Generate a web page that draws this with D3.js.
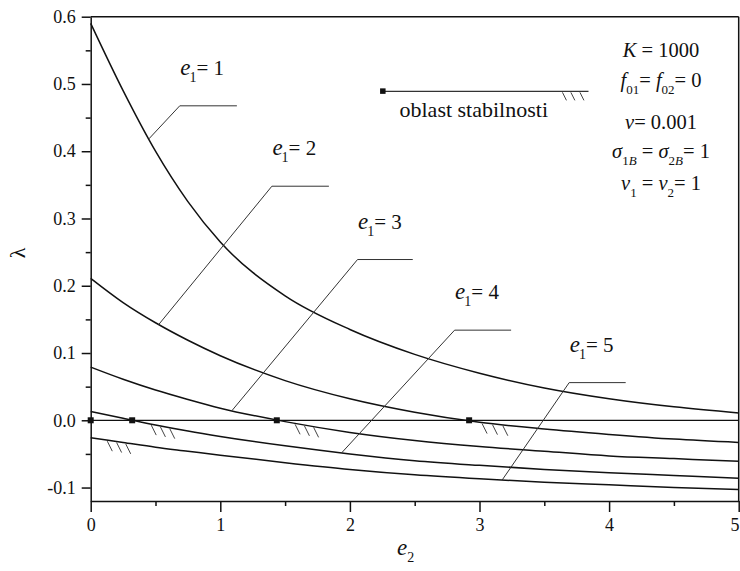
<!DOCTYPE html>
<html><head><meta charset="utf-8">
<script src="https://cdn.jsdelivr.net/npm/d3@7"></script>
<style>
body{margin:0;background:#fff}
svg text{font-family:"Liberation Serif","DejaVu Serif",serif;fill:#111}
</style>
</head><body>
<svg id="c" width="740" height="571"></svg>
<script>
// ---------- data ----------
const e2Grid = [0, 0.25, 0.5, 0.75, 1, 1.5, 2, 2.5, 3, 3.5, 4, 4.5, 5];
const e1Values = ["1", "2", "3", "4", "5"];
const lambdaE1_1 = [0.59, 0.49, 0.40, 0.325, 0.265, 0.185, 0.135, 0.098, 0.07, 0.048, 0.032, 0.02, 0.011];
const lambdaE1_2 = [0.211, 0.175, 0.145, 0.119, 0.096, 0.059, 0.032, 0.012, -0.003, -0.013, -0.021, -0.028, -0.033];
const lambdaE1_3 = [0.079, 0.061, 0.045, 0.031, 0.018, -0.002, -0.018, -0.030, -0.039, -0.046, -0.053, -0.057, -0.061];
const lambdaE1_4 = [0.013, 0.003, -0.007, -0.016, -0.024, -0.038, -0.050, -0.060, -0.067, -0.073, -0.078, -0.082, -0.086];
const lambdaE1_5 = [-0.026, -0.033, -0.040, -0.046, -0.052, -0.063, -0.073, -0.081, -0.087, -0.092, -0.096, -0.100, -0.103];
const seriesList = [lambdaE1_1, lambdaE1_2, lambdaE1_3, lambdaE1_4, lambdaE1_5];

const xTicks = [0, 1, 2, 3, 4, 5];
const xMinor = [0.5, 1.5, 2.5, 3.5, 4.5];
const yTicks = [-0.1, 0, 0.1, 0.2, 0.3, 0.4, 0.5, 0.6];
const yMinor = [-0.05, 0.05, 0.15, 0.25, 0.35, 0.45, 0.55];

const zeroPoints = [0, 0.32, 1.436, 2.92];          // e2 where curves cross lambda = 0

// leader lines (data coords): start on curve, corner, end of horizontal
const leaderStart = [0.449, 0.525, 1.09, 1.936, 3.175];
const leaderCornerE2 = [0.687, 1.398, 2.059, 2.808, 3.692];
const leaderCornerL = [0.4675, 0.348, 0.239, 0.134, 0.056];
const leaderEnd = [1.128, 1.838, 2.485, 3.244, 4.128];

// hatch marks (stability side) : curve index and e2 positions
const hatchCurve = [3, 2, 1, 4];
const hatchPos = [[0.467, 0.538, 0.61], [1.577, 1.649, 1.72], [3.02, 3.10, 3.18], [0.128, 0.2, 0.27]];

// legend item
const legendE2 = [2.256, 3.841];
const legendLambda = 0.489;
const legendHatch = [3.64, 3.705, 3.775];
const legendText = "oblast stabilnosti";

// parameter block
const paramLines = [
  [["K", "i"], [" = 1000", ""]],
  [["f", "i"], ["01", "s"], ["=", ""], [" f", "i"], ["02", "s"], ["= 0", ""]],
  [["\u03bd", "i"], ["= 0.001", ""]],
  [["\u03c3", "i"], ["1", "s"], ["B", "si"], [" = ", ""], ["\u03c3", "i"], ["2", "s"], ["B", "si"], ["= 1", ""]],
  [["\u03bd", "i"], ["1", "s"], [" = ", ""], ["\u03bd", "i"], ["2", "s"], ["= 1", ""]]
];
const paramBaselines = [57, 87, 129, 158, 190];

// ---------- drawing ----------
const svg = d3.select("#c");
const x = d3.scaleLinear().domain([0, 5]).range([90.7, 738.7]);
const y = d3.scaleLinear().domain([-0.12, 0.6]).range([501, 16.7]);
const ink = "#111";
const FONT = '"Liberation Serif","DejaVu Serif",serif';

const fmtY = d => d3.format(".1f")(d).replace("\u2212", "-");

// frame top/right
svg.append("line").attr("x1", x(0)).attr("x2", x(5)).attr("y1", y(0.6)).attr("y2", y(0.6))
  .attr("stroke", ink).attr("stroke-width", 1.5);
svg.append("line").attr("x1", x(5)).attr("x2", x(5)).attr("y1", y(0.6)).attr("y2", y(-0.12))
  .attr("stroke", ink).attr("stroke-width", 1.5);

// y axis
const gy = svg.append("g").attr("transform", `translate(${x(0)},0)`)
  .call(d3.axisLeft(y).tickValues(yTicks).tickSize(9).tickSizeOuter(0).tickPadding(6).tickFormat(fmtY));
svg.append("g").attr("transform", `translate(${x(0)},0)`)
  .call(d3.axisLeft(y).tickValues(yMinor).tickSize(5).tickFormat(""))
  .call(g => g.select(".domain").remove());
// x axis
const gx = svg.append("g").attr("transform", `translate(0,${y(-0.12)})`)
  .call(d3.axisBottom(x).tickValues(xTicks).tickSize(11).tickSizeOuter(0).tickPadding(6).tickFormat(d3.format("d")));
svg.append("g").attr("transform", `translate(0,${y(-0.12)})`)
  .call(d3.axisBottom(x).tickValues(xMinor).tickSize(5).tickFormat(""))
  .call(g => g.select(".domain").remove());
svg.selectAll(".domain, .tick line").attr("stroke", ink).attr("stroke-width", 1.5);
[gx, gy].forEach(g => g.attr("font-family", FONT).attr("font-size", 18));
svg.selectAll(".tick text").attr("fill", ink);
// keep the last x label inside the window
gx.selectAll(".tick text").filter(d => d === 5).attr("text-anchor", "end").attr("dx", 0.3);

// axis titles
const xt = svg.append("text").attr("x", 397).attr("y", 555).attr("font-size", 23);
xt.append("tspan").attr("font-style", "italic").text("e");
xt.append("tspan").attr("font-size", 14).attr("dy", 7).text("2");
svg.append("text").attr("transform", "translate(25,253) rotate(-90)")
  .attr("text-anchor", "middle").attr("font-size", 22).text("\u03bb");

// zero line
svg.append("line").attr("x1", x(0)).attr("x2", x(5)).attr("y1", y(0)).attr("y2", y(0))
  .attr("stroke", ink).attr("stroke-width", 1.3);

// curves
const line = d3.line().x((d, i) => x(e2Grid[i])).y(d => y(d)).curve(d3.curveMonotoneX);
seriesList.forEach(s => {
  svg.append("path").attr("d", line(s)).attr("fill", "none").attr("stroke", ink).attr("stroke-width", 1.5);
});
const interp = s => d3.scaleLinear().domain(e2Grid).range(s);

// zero markers
svg.selectAll("rect.zm").data(zeroPoints).join("rect").attr("class", "zm")
  .attr("x", d => x(d) - 3).attr("y", y(0) - 3).attr("width", 6).attr("height", 6).attr("fill", ink);

// leaders and labels
e1Values.forEach((lab, i) => {
  const s = interp(seriesList[i]);
  const pts = [[x(leaderStart[i]), y(s(leaderStart[i]))],
               [x(leaderCornerE2[i]), y(leaderCornerL[i])],
               [x(leaderEnd[i]), y(leaderCornerL[i])]];
  svg.append("path").attr("d", d3.line()(pts)).attr("fill", "none")
    .attr("stroke", "#333").attr("stroke-width", 1);
  const t = svg.append("text").attr("x", x(leaderCornerE2[i]) + 0.5).attr("y", y(leaderCornerL[i]) - 31)
    .attr("font-size", 21);
  t.append("tspan").attr("font-style", "italic").attr("font-size", 23).text("e");
  t.append("tspan").attr("font-size", 14).attr("dy", 7).attr("dx", -1).text("1");
  t.append("tspan").attr("dy", -7).attr("dx", 0).text("= " + lab);
});

// hatches
hatchCurve.forEach((ci, k) => {
  const s = interp(seriesList[ci]);
  hatchPos[k].forEach(p => {
    const x0 = x(p), y0 = y(s(p)) + 1;
    svg.append("line").attr("x1", x0).attr("y1", y0).attr("x2", x0 + 5).attr("y2", y0 + 10)
      .attr("stroke", "#444").attr("stroke-width", 1);
  });
});

// legend
svg.append("line").attr("x1", x(legendE2[0])).attr("x2", x(legendE2[1]))
  .attr("y1", y(legendLambda)).attr("y2", y(legendLambda)).attr("stroke", "#333").attr("stroke-width", 1.2);
svg.append("rect").attr("x", x(legendE2[0]) - 3).attr("y", y(legendLambda) - 3)
  .attr("width", 5.5).attr("height", 5.5).attr("fill", ink);
legendHatch.forEach(p => {
  const x0 = x(p), y0 = y(legendLambda) + 1;
  svg.append("line").attr("x1", x0).attr("y1", y0).attr("x2", x0 + 4).attr("y2", y0 + 8)
    .attr("stroke", "#444").attr("stroke-width", 1);
});
svg.append("text").attr("x", 399.5).attr("y", 117).attr("font-size", 22).text(legendText);

// parameter block
paramLines.forEach((segs, li) => {
  const t = svg.append("text").attr("x", 661).attr("y", paramBaselines[li])
    .attr("text-anchor", "middle").attr("font-size", 20.5);
  let sub = false;
  segs.forEach(([txt, st]) => {
    const ts = t.append("tspan").text(txt);
    const isSub = st.startsWith("s");
    if (st.includes("i")) ts.attr("font-style", "italic");
    if (isSub) ts.attr("font-size", 13);
    if (isSub && !sub) ts.attr("dy", 7);
    if (!isSub && sub) ts.attr("dy", -7);
    sub = isSub;
  });
});
</script>
</body></html>
